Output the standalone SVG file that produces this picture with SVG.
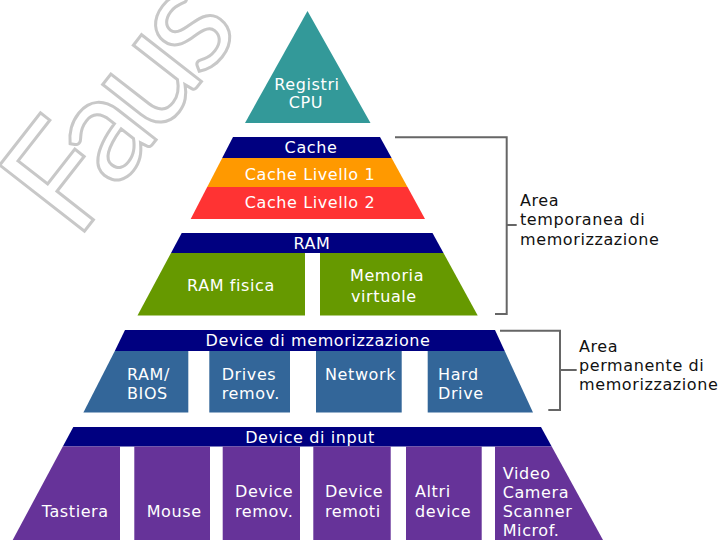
<svg xmlns="http://www.w3.org/2000/svg" width="724" height="540" viewBox="0 0 724 540">
<style>
.t{font-family:"DejaVu Sans","Verdana",sans-serif;font-size:16px;letter-spacing:0.6px;fill:#ffffff}
.c{text-anchor:middle}
.k{font-family:"DejaVu Sans","Verdana",sans-serif;font-size:16px;letter-spacing:0.6px;fill:#111111}
.navy{fill:#000080}
.teal{fill:#339999}
.org{fill:#ff9900}
.red{fill:#ff3333}
.grn{fill:#669900}
.blu{fill:#336699}
.pur{fill:#663399}
.br{fill:none;stroke:#666666;stroke-width:2}
.wm{font-family:"Lato","DejaVu Sans",sans-serif;font-size:150px;letter-spacing:-9px;fill:#ffffff;stroke:#c8c8c8;stroke-width:3}
</style>
<rect width="724" height="540" fill="#ffffff"/>
<g id="watermark">
<text class="wm" transform="translate(76,242) rotate(-52)">Faus</text>
</g>
<g id="registri">
<polygon class="teal" points="307.5,11 245,123 370.5,123"/>
<text class="t c" x="307" y="90">Registri</text>
<text class="t c" x="306" y="108">CPU</text>
</g>
<g id="cache">
<polygon class="navy" points="233,137 380,137 391.6,158 222.2,158"/>
<text class="t c" x="311" y="153">Cache</text>
</g>
<g id="cache1">
<polygon class="org" points="222.2,158 391.6,158 407.5,187 207.2,187"/>
<text class="t c" x="310" y="180">Cache Livello 1</text>
</g>
<g id="cache2">
<polygon class="red" points="207.2,187 407.5,187 425,219 190.7,219"/>
<text class="t c" x="310" y="208">Cache Livello 2</text>
</g>
<g id="ram">
<polygon class="navy" points="181.7,233 432.5,233 443.5,253 171,253"/>
<text class="t c" x="312" y="249">RAM</text>
</g>
<g id="ramfisica">
<polygon class="grn" points="171,253 305,253 305,315.5 137.5,315.5"/>
<text class="t c" x="231" y="291">RAM fisica</text>
</g>
<g id="memvirtuale">
<polygon class="grn" points="320,253 443.5,253 477.7,315.5 320,315.5"/>
<text class="t" x="350" y="281">Memoria</text>
<text class="t" x="351" y="302">virtuale</text>
</g>
<g id="devmem">
<polygon class="navy" points="125,330 495,330 504.7,351 114.8,351"/>
<text class="t c" x="318" y="346">Device di memorizzazione</text>
</g>
<g id="rambios">
<polygon class="blu" points="114.8,351 188.3,351 188.3,412.5 83.4,412.5"/>
<text class="t" x="127" y="380">RAM/</text>
<text class="t" x="127" y="399">BIOS</text>
</g>
<g id="drives">
<rect class="blu" x="209.3" y="351" width="80.7" height="61.5"/>
<text class="t" x="221.7" y="380">Drives</text>
<text class="t" x="221.7" y="399">remov.</text>
</g>
<g id="network">
<rect class="blu" x="316" y="351" width="85.7" height="61.5"/>
<text class="t" x="325" y="380">Network</text>
</g>
<g id="harddrive">
<polygon class="blu" points="427.7,351 504.7,351 533,412.5 427.7,412.5"/>
<text class="t" x="438" y="380">Hard</text>
<text class="t" x="438" y="399">Drive</text>
</g>
<g id="devinput">
<polygon class="navy" points="73.3,427 541,427 551.7,446.5 62.8,446.5"/>
<text class="t c" x="310" y="443">Device di input</text>
</g>
<g id="tastiera">
<polygon class="pur" points="62.8,446.5 120,446.5 120,540 12.7,540"/>
<text class="t" x="41.7" y="517">Tastiera</text>
</g>
<g id="mouse">
<rect class="pur" x="134.3" y="446.5" width="75.7" height="93.5"/>
<text class="t" x="146.7" y="517">Mouse</text>
</g>
<g id="devremov">
<rect class="pur" x="222.7" y="446.5" width="77.3" height="93.5"/>
<text class="t" x="235" y="497">Device</text>
<text class="t" x="235" y="517">remov.</text>
</g>
<g id="devremoti">
<rect class="pur" x="313.3" y="446.5" width="77.4" height="93.5"/>
<text class="t" x="325" y="497">Device</text>
<text class="t" x="325" y="517">remoti</text>
</g>
<g id="altri">
<rect class="pur" x="406" y="446.5" width="75.7" height="93.5"/>
<text class="t" x="415" y="497">Altri</text>
<text class="t" x="415" y="517">device</text>
</g>
<g id="video">
<polygon class="pur" points="495,446.5 551.7,446.5 603,540 495,540"/>
<text class="t" x="502.7" y="479">Video</text>
<text class="t" x="502.7" y="498">Camera</text>
<text class="t" x="502.7" y="517">Scanner</text>
<text class="t" x="502.7" y="536">Microf.</text>
</g>
<g id="connectors">
<polyline class="br" points="395,137.3 506.7,137.3 506.7,314 495,314"/>
<line class="br" x1="506.7" y1="225" x2="516.7" y2="225"/>
<polyline class="br" points="500,330.7 560,330.7 560,410 548.3,410"/>
<line class="br" x1="560" y1="370" x2="576.7" y2="370"/>
</g>
<g id="area-temp">
<text class="k" x="520" y="206">Area</text>
<text class="k" x="520" y="225">temporanea di</text>
<text class="k" x="520" y="245">memorizzazione</text>
</g>
<g id="area-perm">
<text class="k" x="579" y="352">Area</text>
<text class="k" x="579" y="371">permanente di</text>
<text class="k" x="579" y="390">memorizzazione</text>
</g>
</svg>
